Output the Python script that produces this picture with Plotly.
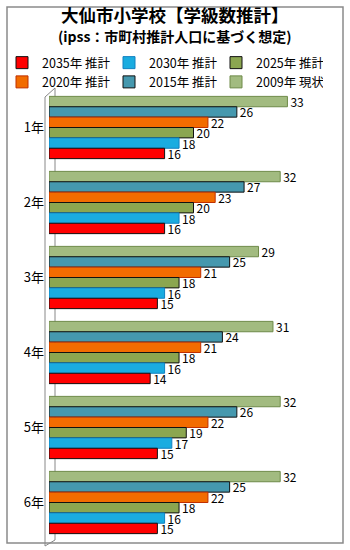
import plotly.graph_objects as go

categories = ["1年", "2年", "3年", "4年", "5年", "6年"]
series_names = ["2009年 現状", "2015年 推計", "2020年 推計", "2025年 推計", "2030年 推計", "2035年 推計"]
v2009 = [33, 32, 29, 31, 32, 32]
v2015 = [26, 27, 25, 24, 26, 25]
v2020 = [22, 23, 21, 21, 22, 22]
v2025 = [20, 20, 18, 18, 19, 18]
v2030 = [18, 18, 16, 16, 17, 16]
v2035 = [16, 16, 15, 14, 15, 15]
values = [v2009, v2015, v2020, v2025, v2030, v2035]
colors = ["#A2BB80", "#4598AE", "#F26C00", "#8BA650", "#1AACE0", "#FF0000"]
outlines = ["#6E8A48", "#111111", "#C03000", "#111111", "#1080C0", "#111111"]

FONT = "Noto Sans CJK JP, Noto Sans, sans-serif"

fig = go.Figure()
for name, vals, c, oc in zip(series_names, values, colors, outlines):
    fig.add_trace(go.Bar(
        y=categories, x=vals, name=name, orientation="h",
        marker=dict(color=c, line=dict(color=oc, width=1)),
        text=[str(v) for v in vals], textposition="outside", constraintext="none",
        textfont=dict(size=12, color="#000000", family=FONT),
        cliponaxis=False,
    ))

fig.update_layout(
    width=350, height=550,
    margin=dict(l=49, r=12, t=90, b=10, autoexpand=False),
    paper_bgcolor="white", plot_bgcolor="white",
    barmode="group", bargap=0.17, bargroupgap=0,
    font=dict(family=FONT, size=12, color="#000000"),
    showlegend=True,
    legend=dict(
        orientation="h", x=-47/289, xanchor="left",
        y=1 + 42/450, yanchor="top",
        traceorder="reversed", entrywidth=62, entrywidthmode="pixels",
        font=dict(size=12.5, family=FONT, color="#000000"),
        itemwidth=30, bgcolor="rgba(0,0,0,0)", tracegroupgap=0,
    ),
    annotations=[
        dict(text="<b>大仙市小学校【学級数推計】</b>", xref="paper", yref="paper",
             x=0.5 - 19/289, y=1 + 75/450, xanchor="center", yanchor="middle", showarrow=False,
             font=dict(size=17.5, family=FONT, color="#000000")),
        dict(text="<b>(ipss：市町村推計人口に基づく想定)</b>", xref="paper", yref="paper",
             x=0.5 - 19/289, y=1 + 54/450, xanchor="center", yanchor="middle", showarrow=False,
             font=dict(size=14, family=FONT, color="#000000")),
    ],
    xaxis=dict(range=[0, 40], showgrid=False, showticklabels=False, zeroline=False,
               showline=False, ticks=""),
    yaxis=dict(autorange="reversed", showgrid=False, showline=False, ticks="",
               tickfont=dict(size=13, family=FONT, color="#000000"), ticklabelstandoff=4),
    shapes=[
        dict(type="rect", xref="paper", yref="paper", x0=-42/289, x1=1+5/289, y0=-3/450, y1=1+83/450,
             line=dict(color="#8A8A8A", width=1.5), fillcolor="rgba(0,0,0,0)", layer="below"),
        dict(type="line", xref="paper", yref="paper", x0=-4/289, x1=-4/289, y0=-6/450, y1=1-7/450,
             line=dict(color="#888888", width=1)),
        dict(type="line", xref="paper", yref="paper", x0=6/289, x1=6/289, y0=0, y1=1+2/450,
             line=dict(color="#888888", width=1), layer="below"),
        dict(type="line", xref="paper", yref="paper", x0=-4/289, x1=6/289, y0=1-7/450, y1=1+2/450,
             line=dict(color="#888888", width=1)),
        dict(type="line", xref="paper", yref="paper", x0=-4/289, x1=6/289, y0=-6/450, y1=0,
             line=dict(color="#888888", width=1)),
    ],
)

fig.write_html("out.html")
